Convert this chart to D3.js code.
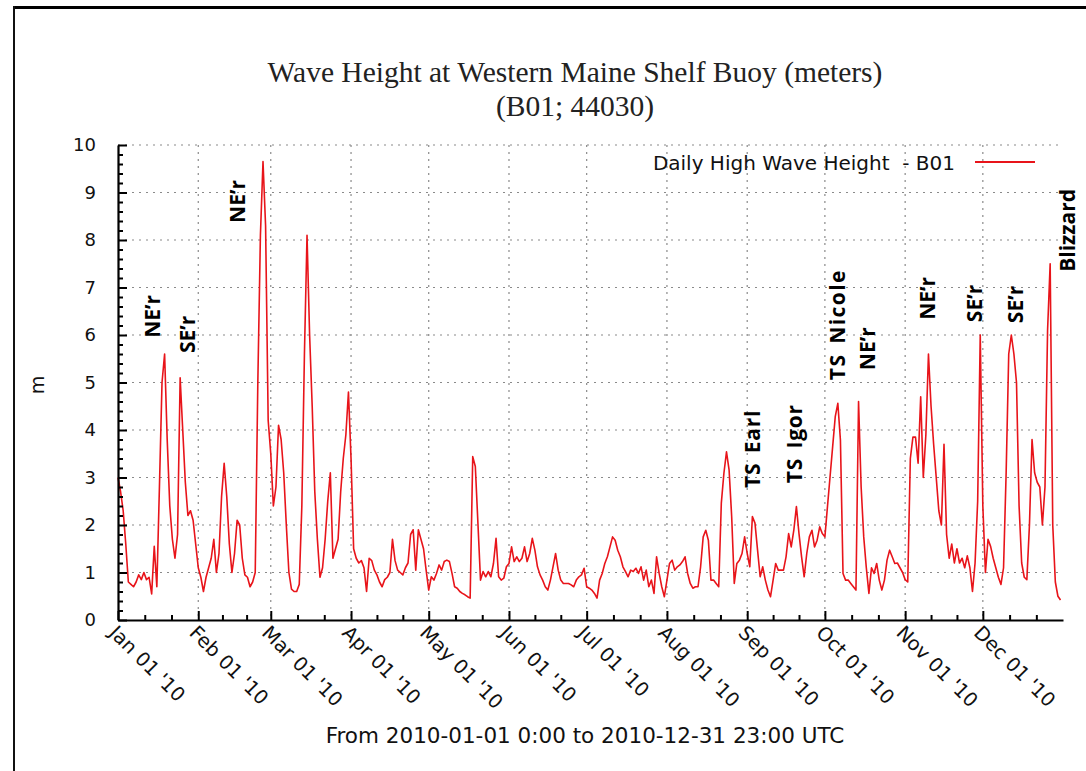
<!DOCTYPE html>
<html><head><meta charset="utf-8">
<script src="https://cdn.jsdelivr.net/npm/d3@7"></script>
<style>body{margin:0;background:#fff} text{white-space:pre}</style>
</head><body>
<svg id="chart" width="1086" height="771"></svg>
<script>
// ---------------- data ----------------
const startYear = 2010;
// Daily high wave height (m), one value per day from 2010-01-01
const waveHeight = [
 3.0,2.7,2.3,1.6,0.8,0.75,0.7,0.8,0.95,0.85,
 1.0,0.85,0.9,0.55,1.55,0.7,2.8,5.0,5.6,3.8,
 2.4,1.7,1.3,1.8,5.1,4.0,2.9,2.2,2.3,2.1,
 1.6,1.1,0.9,0.6,0.9,1.1,1.3,1.7,1.0,1.4,
 2.6,3.3,2.6,1.6,1.0,1.4,2.1,2.0,1.3,0.95,
 0.9,0.7,0.8,1.0,5.0,8.1,9.65,8.3,4.2,3.5,
 2.4,2.8,4.1,3.8,3.1,2.0,1.0,0.65,0.6,0.6,
 0.75,2.4,5.6,8.1,6.0,4.5,2.7,1.7,0.9,1.1,
 1.7,2.5,3.1,1.3,1.5,1.7,2.7,3.4,3.9,4.8,
 3.4,1.5,1.3,1.2,1.25,1.1,0.6,1.3,1.25,1.05,
 0.95,0.8,0.7,0.85,0.9,1.0,1.7,1.25,1.05,1.0,
 0.95,1.1,1.2,1.8,1.9,1.05,1.9,1.7,1.5,1.05,
 0.63,0.91,0.84,0.98,1.16,1.05,1.23,1.26,1.23,0.98,
 0.7,0.67,0.6,0.56,0.53,0.49,0.46,3.44,3.23,2.04,
 0.84,1.02,0.91,1.02,0.91,1.19,1.72,0.91,0.84,0.88,
 1.12,1.19,1.54,1.23,1.33,1.23,1.3,1.54,1.23,1.4,
 1.72,1.47,1.12,0.95,0.84,0.7,0.63,0.84,1.12,1.4,
 1.05,0.84,0.77,0.77,0.77,0.74,0.7,0.84,0.91,0.95,
 1.09,0.7,0.67,0.63,0.56,0.46,0.84,0.98,1.19,1.33,
 1.54,1.75,1.68,1.47,1.33,1.12,1.02,0.91,1.05,1.02,
 1.09,0.98,1.12,0.84,1.05,0.7,0.84,0.56,1.33,0.98,
 0.7,0.49,0.84,1.19,1.26,1.05,1.12,1.16,1.23,1.33,
 0.98,0.77,0.67,0.7,0.7,1.12,1.75,1.89,1.68,0.84,
 0.84,0.77,0.7,2.46,3.09,3.54,3.16,2.18,0.77,1.19,
 1.26,1.4,1.75,1.4,1.12,2.18,2.04,1.47,0.91,1.12,
 0.84,0.63,0.49,0.84,1.19,1.05,1.05,1.05,1.33,1.82,
 1.54,1.89,2.39,1.82,1.33,0.91,1.4,1.75,1.89,1.54,
 1.68,1.96,1.82,1.75,2.39,3.02,3.65,4.28,4.56,3.79,
 0.98,0.84,0.84,0.77,0.7,0.63,4.6,2.8,1.75,1.1,
 0.56,1.1,0.98,1.19,0.84,0.63,0.84,1.26,1.47,1.33,
 1.19,1.2,1.1,1.0,0.85,0.8,3.4,3.85,3.85,3.3,
 4.7,3.0,3.9,5.6,4.5,3.7,3.0,2.3,2.0,3.7,
 1.8,1.3,1.6,1.2,1.5,1.2,1.3,1.1,1.35,1.1,
 0.6,1.2,2.5,6.0,2.4,1.0,1.7,1.55,1.3,1.1,
 0.9,0.75,1.1,3.1,5.6,6.0,5.6,5.0,2.4,1.2,
 0.9,0.85,2.0,3.8,3.1,2.9,2.8,2.0,2.8,6.1,
 7.5,2.0,0.8,0.5,0.42
];
const monthLabels = ["Jan 01 '10","Feb 01 '10","Mar 01 '10","Apr 01 '10","May 01 '10","Jun 01 '10",
                     "Jul 01 '10","Aug 01 '10","Sep 01 '10","Oct 01 '10","Nov 01 '10","Dec 01 '10"];
const yTickValues = [0,1,2,3,4,5,6,7,8,9,10];
// event annotations: label, day of year (0-based), wave height where the label starts
const annLabels = ["NE\u2019r","SE\u2019r","NE\u2019r","TS Earl","TS Igor","TS Nicole","NE\u2019r","NE\u2019r","SE\u2019r","SE\u2019r","Blizzard"];
const annDays   = [16.2, 29.7, 49.0, 247.9, 264.1, 280.7, 292.3, 315.4, 333.6, 349.4, 369.5];
const annValues = [5.94, 5.62, 8.36, 2.78, 2.88, 5.05, 5.26, 6.32, 6.27, 6.25, 7.33];
const titleLines = ["Wave Height at Western Maine Shelf Buoy (meters)", "(B01; 44030)"];
const legendLabel = "Daily High Wave Height  - B01";
const xTitle = "From 2010-01-01 0:00 to 2010-12-31 23:00 UTC";
const yTitle = "m";

// ---------------- chart ----------------
const svg = d3.select("#chart");
const M = {left:118, right:1063, top:145, bottom:620};
const sans = "DejaVu Sans, sans-serif";

// page frame (top and left edges visible)
svg.append("line").attr("x1",13).attr("x2",1086).attr("y1",7.5).attr("y2",7.5).attr("stroke","#000").attr("stroke-width",3);
svg.append("line").attr("x1",14).attr("x2",14).attr("y1",6).attr("y2",771).attr("stroke","#111").attr("stroke-width",2);

const x = d3.scaleUtc()
  .domain([new Date(Date.UTC(startYear,0,1)), new Date(Date.UTC(startYear,11,31,23))])
  .range([M.left, M.right]);
const y = d3.scaleLinear().domain([0,10]).range([M.bottom, M.top]);

const dayDate = d => new Date(Date.UTC(startYear,0,1) + d*86400000);
const series = waveHeight.map((v,i) => ({date: dayDate(i), value: v}));
const months = d3.utcMonth.range(new Date(Date.UTC(startYear,0,1)), new Date(Date.UTC(startYear+1,0,1)));
const minorX = [];
months.forEach(m => {
  const next = d3.utcMonth.offset(m,1);
  const len = next - m;
  minorX.push(new Date(+m + len/3), new Date(+m + 2*len/3));
});
const minorY = d3.range(0,50).filter(i => i%5).map(i => i/5);

// grid
const grid = svg.append("g").attr("stroke","#8a8a8a").attr("stroke-width",1.2).attr("stroke-dasharray","2,5");
grid.selectAll("line.h").data(yTickValues.slice(1)).join("line")
  .attr("x1",M.left).attr("x2",M.right).attr("y1",d=>y(d)).attr("y2",d=>y(d));
grid.selectAll("line.v").data(months.slice(1)).join("line")
  .attr("x1",d=>x(d)).attr("x2",d=>x(d)).attr("y1",M.top).attr("y2",M.bottom);

// data line
svg.append("path").datum(series)
  .attr("fill","none").attr("stroke","#e8141a").attr("stroke-width",1.6).attr("stroke-linejoin","round")
  .attr("d", d3.line().x(d=>x(d.date)).y(d=>y(d.value)));

// axes
const yAxis = svg.append("g").attr("transform",`translate(${M.left},0)`)
  .call(d3.axisLeft(y).tickValues(yTickValues).tickSizeInner(-9).tickSizeOuter(0).tickPadding(22).tickFormat(d3.format("d")));
svg.append("g").attr("transform",`translate(${M.left},0)`)
  .call(d3.axisLeft(y).tickValues(minorY).tickSizeInner(-5).tickSizeOuter(0).tickFormat(""))
  .select(".domain").remove();
svg.append("g").attr("transform",`translate(0,${M.bottom})`)
  .call(d3.axisBottom(x).tickValues(months).tickSizeInner(-9).tickSizeOuter(0).tickFormat(""));
svg.append("g").attr("transform",`translate(0,${M.bottom})`)
  .call(d3.axisBottom(x).tickValues(minorX).tickSizeInner(-5).tickSizeOuter(0).tickFormat(""))
  .select(".domain").remove();
svg.selectAll(".domain").attr("stroke","#000").attr("stroke-width",2.2);
svg.selectAll(".tick line").attr("stroke","#000").attr("stroke-width",2);
yAxis.selectAll("text").attr("font-family",sans).attr("font-size",18).attr("fill","#111");

// rotated month labels
svg.append("g").selectAll("text").data(months).join("text")
  .attr("transform", d => `translate(${x(d)-10},${M.bottom+14}) rotate(45)`)
  .attr("font-family",sans).attr("font-size",19.5).attr("fill","#111")
  .text((d,i) => monthLabels[i]);

// titles
svg.append("g").selectAll("text").data(titleLines).join("text")
  .attr("x",575).attr("y",(d,i)=>82+i*34).attr("text-anchor","middle")
  .attr("font-family","Liberation Serif, serif").attr("font-size",29.5).attr("fill","#222")
  .text(d=>d);
svg.append("text").attr("x",585).attr("y",743).attr("text-anchor","middle")
  .attr("font-family",sans).attr("font-size",21.5).attr("fill","#111").text(xTitle);
svg.append("text").attr("transform","translate(44,385) rotate(-90)").attr("text-anchor","middle")
  .attr("font-family",sans).attr("font-size",19).attr("fill","#111").text(yTitle);

// legend
svg.append("text").attr("x",955).attr("y",170).attr("text-anchor","end")
  .attr("font-family",sans).attr("font-size",20).attr("fill","#111").text(legendLabel);
svg.append("line").attr("x1",975).attr("x2",1035).attr("y1",162).attr("y2",162)
  .attr("stroke","#e8141a").attr("stroke-width",1.8);

// annotations
svg.append("g").selectAll("text").data(annLabels).join("text")
  .attr("transform",(d,i)=>`translate(${x(dayDate(annDays[i]))},${y(annValues[i])}) rotate(-90)`)
  .attr("font-family","Open Sans, sans-serif").attr("font-weight",700).attr("font-size",21).attr("fill","#000")
  .attr("word-spacing", 3)
  .attr("letter-spacing", d => d.indexOf(" ") >= 0 ? (d.length > 8 ? 1.4 : 0.8) : 0)
  .text(d=>d);
</script>
</body></html>
